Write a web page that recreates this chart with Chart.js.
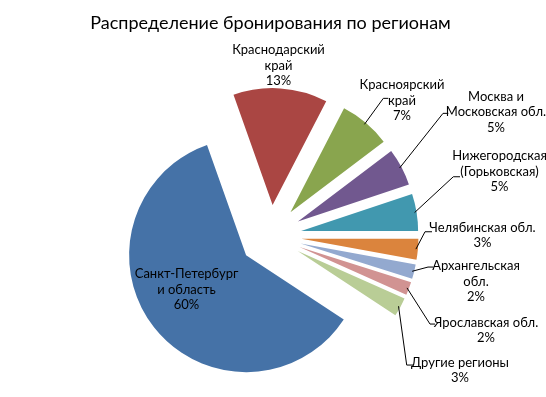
<!DOCTYPE html>
<html>
<head>
<meta charset="utf-8">
<script src="https://cdn.jsdelivr.net/npm/chart.js@4.4.1/dist/chart.umd.min.js"></script>
<style>
  html, body { margin: 0; padding: 0; background: #fff; overflow: hidden; }
  #wrap { width: 546px; height: 397px; overflow: hidden; }
  canvas { display: block; }
</style>
</head>
<body>
<div id="wrap"><canvas id="c" width="546" height="438"></canvas></div>
<script>
// ---- data ----
const categories = [
  ['Санкт-Петербург', 'и область'],
  ['Краснодарский', 'край'],
  ['Красноярский', 'край'],
  ['Москва и', 'Московская обл.'],
  ['Нижегородская', '(Горьковская)'],
  ['Челябинская обл.'],
  ['Архангельская', 'обл.'],
  ['Ярославская обл.'],
  ['Другие регионы']
];
const shares = [60.3, 13.0, 7.1, 5.2, 5.1, 2.9, 2.0, 1.8, 2.6];
const titleText = 'Распределение бронирования по регионам';

// ---- styles / layout ----
const colors = ['#4572A7', '#AA4643', '#89A54E', '#71588F', '#4198AF', '#DB843D', '#93A9CF', '#D19392', '#B9CD96'];
const FONT = 'Lato, "Noto Sans", sans-serif';
const RADIUS = 117;
const EXPLODE = 31;
const LINE_H = 15.5;
// label text anchor (centre of first line) and leader-line bend/end, relative to pie centre
const labelLayout = [
  { tx: -84, ty: 38 },
  { tx: 8, ty: -186 },
  { tx: 131.5, ty: -151, bx: 112.8, by: -137.7, ex: 117.8, ey: -137.7 },
  { tx: 225.5, ty: -139.3, bx: 172.5, by: -122.7, ex: 177.8, ey: -122.7 },
  { tx: 229, ty: -80, bx: 182.8, by: -59.3, ex: 189.5, ey: -59.3 },
  { tx: 212, ty: -8.3, bx: 154.5, by: -4.3, ex: 161.5, ey: -4.3 },
  { tx: 205.5, ty: 30, bx: 157.5, by: 31, ex: 162.8, ey: 31 },
  { tx: 215.5, ty: 86.3, bx: 159.5, by: 88, ex: 164.5, ey: 88 },
  { tx: 189.5, ty: 126.7, bx: 136.2, by: 129, ex: 142.8, ey: 129 }
];

const explodePlugin = {
  id: 'explodeSlices',
  // push every slice out along its mid-angle, keeping its shape
  afterDatasetsUpdate(chart) {
    const meta = chart.getDatasetMeta(0);
    meta.data.forEach(el => {
      if (el._exploded) return;
      const baseDraw = el.draw;
      el.draw = function (ctx, area) {
        const mid = (this.startAngle + this.endAngle) / 2;
        ctx.save();
        ctx.translate(Math.cos(mid) * EXPLODE, Math.sin(mid) * EXPLODE);
        baseDraw.call(this, ctx, area);
        ctx.restore();
      };
      el._exploded = true;
    });
  },
  afterDraw(chart) {
    const ctx = chart.ctx;
    const meta = chart.getDatasetMeta(0);
    const R = meta.controller.outerRadius;
    const total = shares.reduce((a, b) => a + b, 0);
    ctx.save();
    ctx.font = '13px ' + FONT;
    ctx.fillStyle = '#000';
    ctx.textAlign = 'center';
    ctx.textBaseline = 'middle';
    meta.data.forEach((el, i) => {
      const cx = el.x, cy = el.y;
      const L = labelLayout[i];
      const lines = categories[i].concat([Math.round(shares[i] / total * 100) + '%']);
      lines.forEach((t, k) => ctx.fillText(t, cx + L.tx, cy + L.ty + k * LINE_H));
      if (L.bx !== undefined) {
        const mid = (el.startAngle + el.endAngle) / 2;
        const r0 = R + EXPLODE - 2;
        ctx.beginPath();
        ctx.strokeStyle = '#000';
        ctx.lineWidth = 1;
        ctx.moveTo(cx + Math.cos(mid) * r0, cy + Math.sin(mid) * r0);
        ctx.lineTo(cx + L.bx, cy + L.by);
        ctx.lineTo(cx + L.ex, cy + L.ey);
        ctx.stroke();
      }
    });
    ctx.restore();
  }
};

new Chart(document.getElementById('c'), {
  type: 'pie',
  data: {
    labels: categories,
    datasets: [{
      data: shares,
      backgroundColor: colors,
      borderWidth: 0,
      clip: false
    }]
  },
  options: {
    responsive: false,
    animation: false,
    events: [],
    rotation: 123.4,
    radius: RADIUS,
    layout: { padding: { top: 0, left: 0, right: 5, bottom: 0 } },
    plugins: {
      legend: { display: false },
      tooltip: { enabled: false },
      title: {
        display: true,
        text: titleText,
        color: '#000',
        font: { family: FONT, size: 18, weight: 'normal', lineHeight: 1.2 },
        padding: { top: 12.5, bottom: 0 }
      }
    }
  },
  plugins: [explodePlugin]
});
</script>
</body>
</html>
